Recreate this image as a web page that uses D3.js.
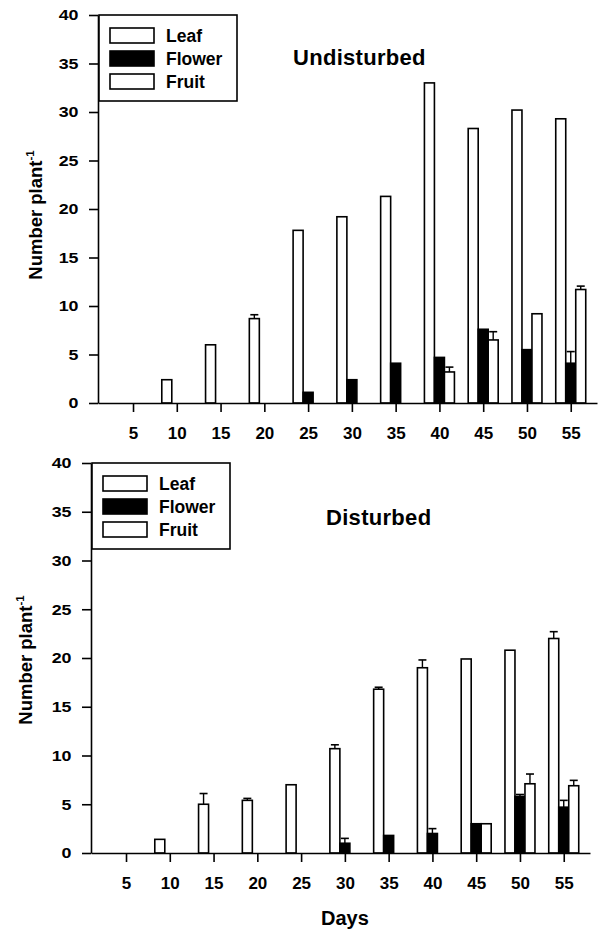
<!DOCTYPE html>
<html>
<head>
<meta charset="utf-8">
<script src="https://cdn.jsdelivr.net/npm/d3@7"></script>
<style>
  body { margin: 0; background: #fff; }
  svg { display: block; font-family: "Liberation Sans", Arial, sans-serif; font-weight: bold; }
</style>
</head>
<body>
<svg id="chart" width="599" height="932"></svg>
<script>
// days on the x axis
const days = [5, 10, 15, 20, 25, 30, 35, 40, 45, 50, 55];
const yTicks = [0, 5, 10, 15, 20, 25, 30, 35, 40];
const seriesNames = ["Leaf", "Flower", "Fruit"];

// Undisturbed
const leafU = [0, 2.4, 6.0, 8.7, 17.8, 19.2, 21.3, 33.0, 28.3, 30.2, 29.3];
const leafUErr = [0, 0.1, 0.1, 0.4, 0.1, 0.1, 0.1, 0.1, 0.1, 0.1, 0.1];
const flowerU = [0, 0, 0, 0, 1.1, 2.4, 4.1, 4.7, 7.6, 5.5, 4.1];
const flowerUErr = [0, 0, 0, 0, 0, 0, 0, 0, 0.1, 0, 1.2];
const fruitU = [0, 0, 0, 0, 0, 0, 0, 3.2, 6.5, 9.2, 11.7];
const fruitUErr = [0, 0, 0, 0, 0, 0, 0, 0.5, 0.85, 0.1, 0.35];

// Disturbed
const leafD = [0, 1.4, 5.0, 5.4, 7.0, 10.7, 16.8, 19.0, 19.9, 20.8, 22.0];
const leafDErr = [0, 0.1, 1.1, 0.2, 0.1, 0.4, 0.2, 0.8, 0.1, 0.1, 0.7];
const flowerD = [0, 0, 0, 0, 0, 1.0, 1.8, 2.0, 3.0, 5.8, 4.7];
const flowerDErr = [0, 0, 0, 0, 0, 0.5, 0, 0.5, 0.1, 0.2, 0.7];
const fruitD = [0, 0, 0, 0, 0, 0, 0, 0, 3.0, 7.1, 6.9];
const fruitDErr = [0, 0, 0, 0, 0, 0, 0, 0, 0.1, 1.0, 0.55];

const fills = ["#fff", "#000", "#fff"];

const panels = [
  {title: "Undisturbed", left: 98, right: 597, top: 15, bottom: 403,
   titleX: 293, titleY: 65, labelX: 36, labelY: 215, xLabel: false,
   series: [[leafU, leafUErr], [flowerU, flowerUErr], [fruitU, fruitUErr]]},
  {title: "Disturbed", left: 91, right: 590, top: 463, bottom: 853,
   titleX: 326, titleY: 525, labelX: 26, labelY: 660, xLabel: true,
   series: [[leafD, leafDErr], [flowerD, flowerDErr], [fruitD, fruitDErr]]}
];

const svg = d3.select("#chart");
const barW = 10;

panels.forEach(p => {
  const g = svg.append("g");

  const x = d3.scaleLinear().domain([1, 58]).range([p.left, p.right]);
  const y = d3.scaleLinear().domain([0, 40]).range([p.bottom, p.top]);

  // bars
  p.series.forEach((s, si) => {
    const vals = s[0], errs = s[1];
    const sg = g.append("g");
    sg.selectAll("rect")
      .data(days)
      .join("rect")
      .attr("x", (d, i) => x(d) + (si - 1.5) * barW)
      .attr("y", (d, i) => y(vals[i]))
      .attr("width", barW)
      .attr("height", (d, i) => y(0) - y(vals[i]))
      .attr("fill", fills[si])
      .attr("stroke", "#000")
      .attr("stroke-width", 1.6);

    // error bars (upper only)
    const eb = sg.selectAll(".err")
      .data(days.filter((d, i) => errs[i] > 0.15))
      .join("g").attr("class", "err");
    eb.append("line")
      .attr("x1", d => x(d) + (si - 1) * barW)
      .attr("x2", d => x(d) + (si - 1) * barW)
      .attr("y1", d => y(vals[days.indexOf(d)]))
      .attr("y2", d => y(vals[days.indexOf(d)] + errs[days.indexOf(d)]))
      .attr("stroke", "#000").attr("stroke-width", 1.4);
    eb.append("line")
      .attr("x1", d => x(d) + (si - 1) * barW - 4)
      .attr("x2", d => x(d) + (si - 1) * barW + 4)
      .attr("y1", d => y(vals[days.indexOf(d)] + errs[days.indexOf(d)]))
      .attr("y2", d => y(vals[days.indexOf(d)] + errs[days.indexOf(d)]))
      .attr("stroke", "#000").attr("stroke-width", 1.6);
  });

  // x axis
  const xAxis = g.append("g")
    .attr("transform", `translate(0,${p.bottom})`)
    .call(d3.axisBottom(x).tickValues(days).tickSize(9).tickPadding(15).tickSizeOuter(0));
  xAxis.select(".domain").attr("stroke-width", 1.6);
  xAxis.selectAll(".tick line").attr("stroke-width", 1.6);
  xAxis.selectAll("text")
    .attr("font-size", 17)
    .attr("font-family", "Liberation Sans, Arial, sans-serif")
    .attr("fill", "#000");

  // y axis
  const yAxis = g.append("g")
    .attr("transform", `translate(${p.left},0)`)
    .call(d3.axisLeft(y).tickValues(yTicks).tickSize(9).tickPadding(8).tickSizeOuter(0));
  yAxis.select(".domain").attr("stroke-width", 1.6);
  yAxis.selectAll(".tick line").attr("stroke-width", 1.6);
  yAxis.selectAll("text")
    .attr("font-size", 15.5)
    .attr("font-family", "Liberation Sans, Arial, sans-serif")
    .attr("fill", "#000")
    .attr("transform", "scale(1.15,1)");

  // y label
  const yl = g.append("text")
    .attr("transform", `translate(${p.labelX},${p.labelY}) rotate(-90)`)
    .attr("text-anchor", "middle")
    .attr("font-size", 18.5)
    .attr("dy", "0.35em");
  yl.append("tspan").text("Number plant");
  yl.append("tspan").text("-1").attr("font-size", 11.5).attr("dy", "-0.75em");

  // title
  g.append("text")
    .attr("x", p.titleX).attr("y", p.titleY)
    .attr("font-size", 22)
    .attr("letter-spacing", 0.3)
    .text(p.title);

  // legend
  const lg = g.append("g").attr("transform", `translate(${p.left + 1},${p.top})`);
  lg.append("rect")
    .attr("width", 138).attr("height", 86)
    .attr("fill", "#fff").attr("stroke", "#000").attr("stroke-width", 1.6);
  seriesNames.forEach((name, i) => {
    lg.append("rect")
      .attr("x", 11).attr("y", 13 + i * 23)
      .attr("width", 44).attr("height", 15)
      .attr("fill", fills[i]).attr("stroke", "#000").attr("stroke-width", 1.6);
    lg.append("text")
      .attr("x", 67).attr("y", 27 + i * 23)
      .attr("font-size", 17.5)
      .text(name);
  });

  if (p.xLabel) {
    g.append("text")
      .attr("x", (x(days[0]) + x(days[days.length - 1])) / 2)
      .attr("y", 925)
      .attr("text-anchor", "middle")
      .attr("font-size", 20)
      .text("Days");
  }
});
</script>
</body>
</html>
